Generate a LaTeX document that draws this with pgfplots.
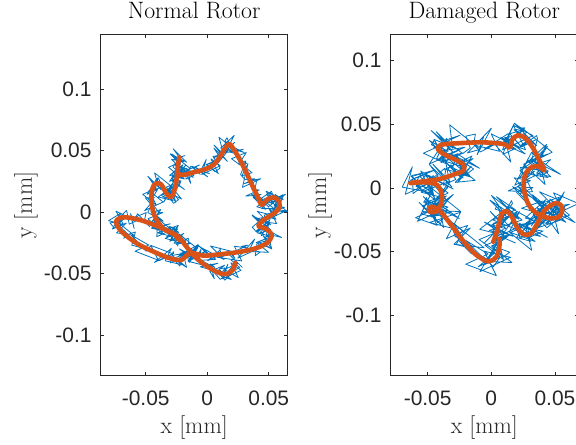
\documentclass[border=0pt]{standalone}
\usepackage{fontspec}
\usepackage{pgfplots}
\pgfplotsset{compat=1.18}
\newfontfamily\tickfamily{Liberation Sans}
\newcommand{\tickfont}{\tickfamily\fontsize{21}{24}\selectfont}
\newcommand{\labfont}{\fontsize{23.8}{28}\selectfont}
\definecolor{mblue}{rgb}{0,0.447,0.741}
\definecolor{morange}{rgb}{0.85,0.325,0.098}
\definecolor{axc}{rgb}{0.15,0.15,0.15}
\pgfplotsset{
  rotor/.style={
    scale only axis,
    width=187bp, height=341bp,
    scaled ticks=false,
    axis line style={draw=axc, line width=0.6bp},
    every tick/.style={draw=axc, line width=0.6bp},
    major tick length=3.3bp,
    tick align=inside,
    xtick={-0.05,0,0.05}, xticklabels={-0.05,0,0.05},
    ytick={-0.1,-0.05,0,0.05,0.1}, yticklabels={-0.1,-0.05,0,0.05,0.1},
    ticklabel style={font=\tickfont, text=axc},
    xticklabel style={anchor=base, inner sep=0pt, yshift=-30bp},
    yticklabel style={anchor=east, inner sep=0pt, xshift=-9bp},
    title style={font=\labfont, at={(axis description cs:0.5,1)}, anchor=base, yshift=10.7bp, inner sep=0pt},
    xlabel style={font=\labfont, text=axc, at={(axis description cs:0.5,0)}, anchor=base, yshift=-57.3bp, inner sep=0pt},
    xlabel={x [mm]}, ylabel={y [mm]},
  },
  blueline/.style={color=mblue, line width=0.8bp, no marks, line join=round},
  orangeline/.style={color=morange, line width=4.6bp, no marks, smooth, tension=0.55, line cap=round, line join=round},
}
\begin{document}
\begin{tikzpicture}
\begin{axis}[rotor,
  at={(100.7bp,69.3bp)}, anchor=south west,
  xmin=-0.0866, xmax=0.0654, ymin=-0.1331, ymax=0.1441,
  title={Normal Rotor},
  ylabel style={font=\labfont, text=axc, at={([xshift=-68.7bp]axis description cs:0,0.5)}, anchor=base, inner sep=0pt},
]
\addplot[blueline] coordinates {
(0.0286,-0.0452) (0.0176,-0.0342) (0.0249,-0.0418) (0.0139,-0.0468)
(0.0252,-0.0533) (0.0192,-0.0413) (0.0275,-0.0474) (0.0125,-0.0544)
(0.0168,-0.0424) (0.0118,-0.0524) (0.0195,-0.0549) (0.0095,-0.0469)
(0.0141,-0.0433) (0.0021,-0.0483) (0.0057,-0.0542) (0.0027,-0.0422)
(0.0062,-0.0451) (-0.0078,-0.0381) (-0.0036,-0.0431) (-0.0156,-0.0401)
(-0.0073,-0.0280) (-0.0143,-0.0410) (-0.0087,-0.0279) (-0.0167,-0.0359)
(-0.0080,-0.0298) (-0.0230,-0.0178) (-0.0198,-0.0255) (-0.0278,-0.0175)
(-0.0175,-0.0241) (-0.0285,-0.0131) (-0.0232,-0.0165) (-0.0342,-0.0215)
(-0.0249,-0.0238) (-0.0309,-0.0118) (-0.0260,-0.0131) (-0.0410,-0.0201)
(-0.0401,-0.0034) (-0.0451,-0.0134) (-0.0409,-0.0140) (-0.0509,-0.0060)
(-0.0496,-0.0005) (-0.0616,-0.0055) (-0.0594,-0.0134) (-0.0624,-0.0014)
(-0.0602,-0.0063) (-0.0742,0.0007) (-0.0682,-0.0101) (-0.0802,-0.0071)
(-0.0701,-0.0009) (-0.0771,-0.0139) (-0.0658,-0.0090) (-0.0738,-0.0170)
(-0.0595,-0.0190) (-0.0745,-0.0070) (-0.0624,-0.0228) (-0.0704,-0.0148)
(-0.0513,-0.0295) (-0.0623,-0.0185) (-0.0476,-0.0269) (-0.0586,-0.0319)
(-0.0398,-0.0392) (-0.0458,-0.0272) (-0.0280,-0.0340) (-0.0430,-0.0410)
(-0.0292,-0.0297) (-0.0342,-0.0397) (-0.0185,-0.0434) (-0.0285,-0.0354)
(-0.0158,-0.0330) (-0.0278,-0.0380) (-0.0168,-0.0450) (-0.0198,-0.0330)
(-0.0087,-0.0370) (-0.0227,-0.0300) (-0.0110,-0.0383) (-0.0230,-0.0353)
(-0.0073,-0.0266) (-0.0143,-0.0396) (-0.0012,-0.0316) (-0.0092,-0.0396)
(0.0069,-0.0385) (-0.0081,-0.0265) (0.0033,-0.0371) (-0.0047,-0.0291)
(0.0137,-0.0387) (0.0027,-0.0277) (0.0189,-0.0318) (0.0079,-0.0368)
(0.0280,-0.0398) (0.0220,-0.0278) (0.0398,-0.0305) (0.0248,-0.0375)
(0.0385,-0.0221) (0.0335,-0.0321) (0.0499,-0.0328) (0.0399,-0.0248)
(0.0533,-0.0195) (0.0413,-0.0245) (0.0524,-0.0301) (0.0494,-0.0181)
(0.0604,-0.0207) (0.0464,-0.0137) (0.0527,-0.0200) (0.0407,-0.0170)
(0.0510,-0.0063) (0.0440,-0.0193) (0.0503,-0.0094) (0.0423,-0.0174)
(0.0516,-0.0144) (0.0366,-0.0024) (0.0446,-0.0110) (0.0366,-0.0030)
(0.0516,-0.0105) (0.0406,0.0005) (0.0520,-0.0025) (0.0410,-0.0075)
(0.0564,-0.0094) (0.0504,0.0026) (0.0641,0.0009) (0.0491,-0.0061)
(0.0588,0.0102) (0.0538,0.0002) (0.0652,0.0003) (0.0552,0.0083)
(0.0636,0.0144) (0.0516,0.0094) (0.0582,0.0022) (0.0552,0.0142)
(0.0618,0.0099) (0.0478,0.0169) (0.0541,0.0069) (0.0421,0.0099)
(0.0523,0.0168) (0.0453,0.0038) (0.0523,0.0108) (0.0443,0.0028)
(0.0543,0.0027) (0.0393,0.0147) (0.0440,0.0064) (0.0360,0.0144)
(0.0476,0.0071) (0.0366,0.0181) (0.0423,0.0179) (0.0313,0.0129)
(0.0410,0.0136) (0.0350,0.0256) (0.0436,0.0270) (0.0286,0.0200)
(0.0331,0.0394) (0.0281,0.0294) (0.0364,0.0319) (0.0264,0.0399)
(0.0317,0.0483) (0.0197,0.0433) (0.0263,0.0384) (0.0233,0.0504)
(0.0298,0.0484) (0.0158,0.0554) (0.0229,0.0489) (0.0109,0.0519)
(0.0220,0.0623) (0.0150,0.0493) (0.0223,0.0566) (0.0143,0.0486)
(0.0245,0.0488) (0.0095,0.0608) (0.0135,0.0464) (0.0055,0.0544)
(0.0164,0.0410) (0.0054,0.0520) (0.0107,0.0436) (-0.0003,0.0386)
(0.0090,0.0312) (0.0030,0.0432) (0.0106,0.0375) (-0.0044,0.0305)
(-0.0008,0.0427) (-0.0058,0.0327) (0.0004,0.0285) (-0.0096,0.0365)
(-0.0063,0.0382) (-0.0183,0.0332) (-0.0134,0.0232) (-0.0164,0.0352)
(-0.0114,0.0281) (-0.0254,0.0351) (-0.0186,0.0268) (-0.0306,0.0298)
(-0.0197,0.0384) (-0.0267,0.0254) (-0.0177,0.0378) (-0.0257,0.0298)
(-0.0137,0.0352) (-0.0287,0.0472) (-0.0222,0.0393) (-0.0302,0.0473)
(-0.0167,0.0404) (-0.0277,0.0514) (-0.0205,0.0413) (-0.0315,0.0363)
(-0.0203,0.0271) (-0.0263,0.0391) (-0.0156,0.0318) (-0.0306,0.0248)
(-0.0238,0.0354) (-0.0288,0.0254) (-0.0185,0.0183) (-0.0285,0.0263)
(-0.0212,0.0252) (-0.0332,0.0202) (-0.0256,0.0079) (-0.0286,0.0199)
(-0.0209,0.0105) (-0.0349,0.0175) (-0.0277,0.0092) (-0.0397,0.0122)
(-0.0284,0.0208) (-0.0354,0.0078) (-0.0291,0.0213) (-0.0371,0.0133)
(-0.0278,0.0198) (-0.0428,0.0318) (-0.0396,0.0204) (-0.0476,0.0284)
(-0.0373,0.0180) (-0.0483,0.0290) (-0.0414,0.0193) (-0.0524,0.0143)
(-0.0414,0.0055) (-0.0474,0.0175) (-0.0359,0.0081) (-0.0509,0.0011)
(-0.0433,0.0096) (-0.0483,-0.0004) (-0.0357,-0.0075) (-0.0457,0.0005)
(-0.0361,-0.0005) (-0.0481,-0.0055) (-0.0361,-0.0183) (-0.0391,-0.0063)
(-0.0271,-0.0161) (-0.0411,-0.0091) (-0.0283,-0.0200) (-0.0403,-0.0170)
(-0.0235,-0.0109) (-0.0305,-0.0239) (-0.0191,-0.0174) (-0.0271,-0.0254)
(-0.0127,-0.0258)
};
\addplot[blueline] coordinates {
(0.0191,-0.0387) (0.0264,-0.0453) (0.0199,-0.0483) (0.0242,-0.0423)
(0.0237,-0.0408) (0.0140,-0.0514) (0.0225,-0.0474) (0.0143,-0.0554)
(0.0108,-0.0514) (0.0145,-0.0454) (0.0095,-0.0464) (0.0146,-0.0518)
(0.0106,-0.0548) (0.0012,-0.0442) (0.0087,-0.0417) (-0.0058,-0.0446)
(0.0017,-0.0466) (-0.0121,-0.0356) (-0.0056,-0.0421) (-0.0133,-0.0300)
(-0.0148,-0.0325) (-0.0102,-0.0324) (-0.0167,-0.0354) (-0.0150,-0.0228)
(-0.0155,-0.0213) (-0.0253,-0.0265) (-0.0168,-0.0225) (-0.0250,-0.0251)
(-0.0285,-0.0211) (-0.0242,-0.0140) (-0.0292,-0.0150) (-0.0234,-0.0193)
(-0.0274,-0.0223) (-0.0375,-0.0121) (-0.0300,-0.0096) (-0.0451,-0.0129)
(-0.0376,-0.0149) (-0.0534,-0.0055) (-0.0469,-0.0120) (-0.0566,-0.0015)
(-0.0581,-0.0040) (-0.0569,-0.0069) (-0.0634,-0.0099) (-0.0652,-0.0003)
(-0.0657,0.0012) (-0.0757,-0.0091) (-0.0672,-0.0051) (-0.0756,-0.0129)
(-0.0791,-0.0089) (-0.0698,-0.0075) (-0.0748,-0.0085) (-0.0640,-0.0185)
(-0.0680,-0.0215) (-0.0659,-0.0188) (-0.0584,-0.0163) (-0.0613,-0.0270)
(-0.0538,-0.0290) (-0.0561,-0.0254) (-0.0496,-0.0319) (-0.0458,-0.0272)
(-0.0473,-0.0297) (-0.0325,-0.0365) (-0.0390,-0.0395) (-0.0272,-0.0337)
(-0.0277,-0.0322) (-0.0300,-0.0414) (-0.0215,-0.0374) (-0.0223,-0.0440)
(-0.0258,-0.0400) (-0.0168,-0.0325) (-0.0218,-0.0335) (-0.0112,-0.0375)
(-0.0152,-0.0405) (-0.0165,-0.0323) (-0.0090,-0.0298) (-0.0153,-0.0351)
(-0.0078,-0.0371) (-0.0127,-0.0311) (-0.0062,-0.0376) (-0.0051,-0.0305)
(-0.0066,-0.0330) (0.0068,-0.0366) (0.0003,-0.0396) (0.0107,-0.0307)
(0.0102,-0.0292) (0.0114,-0.0368) (0.0199,-0.0328) (0.0225,-0.0378)
(0.0190,-0.0338) (0.0328,-0.0270) (0.0278,-0.0280) (0.0430,-0.0326)
(0.0390,-0.0356) (0.0404,-0.0258) (0.0479,-0.0233) (0.0443,-0.0270)
(0.0518,-0.0290) (0.0449,-0.0186) (0.0514,-0.0251) (0.0504,-0.0137)
(0.0489,-0.0162) (0.0542,-0.0175) (0.0477,-0.0205) (0.0500,-0.0093)
(0.0495,-0.0078) (0.0398,-0.0154) (0.0483,-0.0114) (0.0401,-0.0164)
(0.0366,-0.0124) (0.0456,-0.0045) (0.0406,-0.0055) (0.0511,-0.0090)
(0.0471,-0.0120) (0.0465,-0.0025) (0.0540,0.0000) (0.0484,-0.0039)
(0.0559,-0.0059) (0.0496,0.0034) (0.0561,-0.0031) (0.0558,0.0072)
(0.0543,0.0047) (0.0627,0.0038) (0.0562,0.0008) (0.0616,0.0124)
(0.0611,0.0139) (0.0517,0.0072) (0.0602,0.0112) (0.0523,0.0069)
(0.0488,0.0109) (0.0531,0.0154) (0.0481,0.0144) (0.0538,0.0073)
(0.0498,0.0043) (0.0438,0.0098) (0.0513,0.0123) (0.0403,0.0042)
(0.0478,0.0022) (0.0375,0.0119) (0.0440,0.0054) (0.0396,0.0161)
(0.0381,0.0136) (0.0438,0.0144) (0.0373,0.0114) (0.0400,0.0246)
(0.0395,0.0261) (0.0301,0.0230) (0.0386,0.0270) (0.0306,0.0264)
(0.0271,0.0304) (0.0314,0.0414) (0.0264,0.0404) (0.0322,0.0398)
(0.0282,0.0368) (0.0218,0.0484) (0.0293,0.0509) (0.0178,0.0489)
(0.0253,0.0469) (0.0144,0.0564) (0.0209,0.0499) (0.0160,0.0603)
(0.0145,0.0578) (0.0208,0.0521) (0.0143,0.0491) (0.0175,0.0558)
(0.0170,0.0573) (0.0080,0.0454) (0.0165,0.0494) (0.0089,0.0400)
(0.0054,0.0440) (0.0097,0.0461) (0.0047,0.0451) (0.0105,0.0357)
(0.0065,0.0327) (-0.0009,0.0385) (0.0066,0.0410) (-0.0058,0.0332)
(0.0017,0.0312) (-0.0121,0.0370) (-0.0056,0.0305) (-0.0133,0.0372)
(-0.0148,0.0347) (-0.0109,0.0297) (-0.0174,0.0267) (-0.0164,0.0341)
(-0.0169,0.0356) (-0.0261,0.0278) (-0.0176,0.0318) (-0.0252,0.0264)
(-0.0287,0.0304) (-0.0217,0.0393) (-0.0267,0.0383) (-0.0182,0.0357)
(-0.0222,0.0327) (-0.0257,0.0433) (-0.0182,0.0458) (-0.0267,0.0429)
(-0.0192,0.0409) (-0.0290,0.0428) (-0.0225,0.0363) (-0.0263,0.0391)
(-0.0278,0.0366) (-0.0201,0.0293) (-0.0266,0.0263) (-0.0218,0.0314)
(-0.0223,0.0329) (-0.0300,0.0203) (-0.0215,0.0243) (-0.0277,0.0142)
(-0.0312,0.0182) (-0.0256,0.0204) (-0.0306,0.0194) (-0.0234,0.0100)
(-0.0274,0.0070) (-0.0332,0.0152) (-0.0257,0.0177) (-0.0364,0.0123)
(-0.0289,0.0103) (-0.0406,0.0218) (-0.0341,0.0153) (-0.0398,0.0278)
(-0.0413,0.0253) (-0.0361,0.0209) (-0.0426,0.0179) (-0.0403,0.0260)
(-0.0408,0.0275) (-0.0489,0.0143) (-0.0404,0.0183) (-0.0469,0.0075)
(-0.0504,0.0115) (-0.0429,0.0116) (-0.0479,0.0106) (-0.0388,-0.0009)
(-0.0428,-0.0039) (-0.0452,-0.0005) (-0.0377,0.0020) (-0.0451,-0.0080)
(-0.0376,-0.0100) (-0.0436,-0.0068) (-0.0371,-0.0133) (-0.0371,-0.0091)
(-0.0386,-0.0116) (-0.0268,-0.0175) (-0.0333,-0.0205) (-0.0245,-0.0139)
(-0.0250,-0.0124) (-0.0296,-0.0234) (-0.0211,-0.0194) (-0.0242,-0.0278)
};
\addplot[orangeline] coordinates {
(0.0226,-0.0412) (0.0212,-0.0463) (0.0158,-0.0504) (0.0091,-0.0493)
(-0.0018,-0.0431) (-0.0113,-0.0350) (-0.0180,-0.0268) (-0.0235,-0.0201)
(-0.0289,-0.0168) (-0.0411,-0.0114) (-0.0546,-0.0065) (-0.0682,-0.0043)
(-0.0741,-0.0079) (-0.0695,-0.0160) (-0.0573,-0.0255) (-0.0438,-0.0322)
(-0.0302,-0.0377) (-0.0208,-0.0390) (-0.0167,-0.0350) (-0.0113,-0.0336)
(-0.0031,-0.0355) (0.0077,-0.0347) (0.0240,-0.0328) (0.0375,-0.0301)
(0.0483,-0.0255) (0.0524,-0.0187) (0.0470,-0.0133) (0.0416,-0.0114)
(0.0456,-0.0065) (0.0524,-0.0024) (0.0578,0.0022) (0.0586,0.0084)
(0.0538,0.0119) (0.0483,0.0098) (0.0443,0.0057) (0.0416,0.0111)
(0.0370,0.0206) (0.0321,0.0314) (0.0267,0.0423) (0.0218,0.0504)
(0.0180,0.0553) (0.0145,0.0518) (0.0104,0.0450) (0.0050,0.0382)
(-0.0018,0.0347) (-0.0113,0.0322) (-0.0194,0.0301) (-0.0237,0.0314)
(-0.0237,0.0382) (-0.0227,0.0444) (-0.0243,0.0341) (-0.0248,0.0274)
(-0.0262,0.0192) (-0.0289,0.0125) (-0.0324,0.0138) (-0.0378,0.0228)
(-0.0433,0.0220) (-0.0454,0.0125) (-0.0443,0.0016) (-0.0411,-0.0065)
(-0.0351,-0.0141) (-0.0275,-0.0179) (-0.0227,-0.0228)
};
\end{axis}

\begin{axis}[rotor,
  at={(390.7bp,69.3bp)}, anchor=south west,
  width=187.3bp,
  xmin=-0.0790, xmax=0.0681, ymin=-0.1473, ymax=0.1203,
  title={Damaged Rotor},
  ylabel style={font=\labfont, text=axc, at={([xshift=-64.7bp]axis description cs:0,0.5)}, anchor=base, inner sep=0pt},
]
\addplot[blueline] coordinates {
(0.0096,-0.0325) (-0.0096,-0.0405) (0.0061,-0.0512) (0.0013,-0.0320)
(0.0170,-0.0379) (-0.0054,-0.0267) (0.0101,-0.0372) (-0.0091,-0.0324)
(0.0127,-0.0156) (0.0015,-0.0364) (0.0169,-0.0188) (0.0041,-0.0316)
(0.0242,-0.0251) (0.0002,-0.0059) (0.0118,-0.0224) (-0.0010,-0.0096)
(0.0217,-0.0245) (0.0041,-0.0069) (0.0189,-0.0171) (0.0013,-0.0251)
(0.0224,-0.0336) (0.0128,-0.0144) (0.0327,-0.0253) (0.0087,-0.0365)
(0.0221,-0.0185) (0.0141,-0.0345) (0.0344,-0.0420) (0.0184,-0.0292)
(0.0338,-0.0270) (0.0146,-0.0350) (0.0318,-0.0489) (0.0270,-0.0297)
(0.0441,-0.0387) (0.0217,-0.0275) (0.0386,-0.0380) (0.0194,-0.0332)
(0.0427,-0.0164) (0.0315,-0.0372) (0.0479,-0.0189) (0.0351,-0.0317)
(0.0562,-0.0245) (0.0322,-0.0053) (0.0446,-0.0202) (0.0318,-0.0074)
(0.0554,-0.0206) (0.0378,-0.0030) (0.0538,-0.0098) (0.0362,-0.0178)
(0.0585,-0.0230) (0.0489,-0.0038) (0.0684,-0.0122) (0.0444,-0.0234)
(0.0574,-0.0030) (0.0494,-0.0190) (0.0658,-0.0271) (0.0498,-0.0143)
(0.0614,-0.0128) (0.0422,-0.0208) (0.0528,-0.0359) (0.0480,-0.0167)
(0.0586,-0.0269) (0.0362,-0.0157) (0.0459,-0.0284) (0.0267,-0.0236)
(0.0427,-0.0091) (0.0315,-0.0299) (0.0426,-0.0122) (0.0298,-0.0250)
(0.0457,-0.0185) (0.0217,0.0007) (0.0295,-0.0117) (0.0167,0.0011)
(0.0356,-0.0096) (0.0180,0.0080) (0.0308,0.0057) (0.0132,-0.0023)
(0.0324,-0.0030) (0.0228,0.0162) (0.0424,0.0134) (0.0184,0.0022)
(0.0316,0.0281) (0.0236,0.0121) (0.0445,0.0082) (0.0285,0.0210)
(0.0446,0.0267) (0.0254,0.0187) (0.0423,0.0027) (0.0375,0.0219)
(0.0544,0.0107) (0.0320,0.0219) (0.0442,0.0121) (0.0250,0.0169)
(0.0435,0.0343) (0.0323,0.0135) (0.0441,0.0328) (0.0313,0.0200)
(0.0478,0.0281) (0.0238,0.0473) (0.0305,0.0331) (0.0177,0.0459)
(0.0356,0.0333) (0.0180,0.0509) (0.0281,0.0437) (0.0105,0.0357)
(0.0269,0.0301) (0.0173,0.0493) (0.0328,0.0411) (0.0088,0.0299)
(0.0179,0.0504) (0.0099,0.0344) (0.0267,0.0267) (0.0107,0.0395)
(0.0227,0.0414) (0.0035,0.0334) (0.0153,0.0204) (0.0105,0.0396)
(0.0223,0.0313) (-0.0001,0.0425) (0.0064,0.0288) (-0.0128,0.0336)
(0.0001,0.0470) (-0.0111,0.0262) (-0.0059,0.0403) (-0.0187,0.0275)
(-0.0087,0.0304) (-0.0327,0.0496) (-0.0304,0.0314) (-0.0432,0.0442)
(-0.0296,0.0275) (-0.0472,0.0451) (-0.0357,0.0353) (-0.0533,0.0273)
(-0.0354,0.0190) (-0.0450,0.0382) (-0.0248,0.0299) (-0.0488,0.0187)
(-0.0350,0.0391) (-0.0430,0.0231) (-0.0215,0.0164) (-0.0375,0.0292)
(-0.0207,0.0320) (-0.0399,0.0240) (-0.0222,0.0078) (-0.0270,0.0270)
(-0.0093,0.0155) (-0.0317,0.0267) (-0.0171,0.0099) (-0.0363,0.0147)
(-0.0152,0.0251) (-0.0264,0.0043) (-0.0156,0.0172) (-0.0284,0.0044)
(-0.0127,0.0060) (-0.0367,0.0252) (-0.0330,0.0058) (-0.0458,0.0186)
(-0.0309,0.0007) (-0.0485,0.0183) (-0.0416,0.0094) (-0.0592,0.0014)
(-0.0459,-0.0059) (-0.0555,0.0133) (-0.0436,0.0062) (-0.0676,-0.0050)
(-0.0620,0.0167) (-0.0700,0.0007) (-0.0468,-0.0038) (-0.0628,0.0090)
(-0.0443,0.0141) (-0.0635,0.0061) (-0.0443,-0.0093) (-0.0491,0.0099)
(-0.0298,-0.0008) (-0.0522,0.0104) (-0.0359,-0.0081) (-0.0551,-0.0033)
(-0.0323,0.0054) (-0.0435,-0.0154) (-0.0298,-0.0050) (-0.0426,-0.0178)
(-0.0240,-0.0185) (-0.0480,0.0007) (-0.0406,-0.0195) (-0.0534,-0.0067)
(-0.0348,-0.0253) (-0.0524,-0.0077) (-0.0419,-0.0153) (-0.0595,-0.0233)
(-0.0425,-0.0293) (-0.0521,-0.0101) (-0.0340,-0.0150) (-0.0580,-0.0262)
(-0.0463,-0.0022) (-0.0543,-0.0182) (-0.0343,-0.0234) (-0.0503,-0.0106)
(-0.0351,-0.0062) (-0.0543,-0.0142) (-0.0373,-0.0311) (-0.0421,-0.0119)
(-0.0251,-0.0240) (-0.0475,-0.0128) (-0.0294,-0.0319) (-0.0486,-0.0271)
(-0.0241,-0.0190) (-0.0353,-0.0398) (-0.0165,-0.0314) (-0.0293,-0.0442)
(-0.0056,-0.0469) (-0.0296,-0.0277) (-0.0153,-0.0504) (-0.0281,-0.0376)
(-0.0025,-0.0587) (-0.0201,-0.0411) (-0.0025,-0.0518) (-0.0201,-0.0598)
(0.0040,-0.0688) (-0.0056,-0.0496) (0.0151,-0.0544) (-0.0089,-0.0656)
(0.0053,-0.0416) (-0.0027,-0.0576) (0.0162,-0.0585) (0.0002,-0.0457)
(0.0143,-0.0370) (-0.0049,-0.0450) (0.0095,-0.0561) (0.0047,-0.0369)
(0.0191,-0.0432)
};
\addplot[blueline] coordinates {
(-0.0059,-0.0436) (0.0059,-0.0316) (-0.0016,-0.0332) (0.0124,-0.0385)
(0.0064,-0.0429) (0.0015,-0.0278) (0.0128,-0.0240) (0.0003,-0.0290)
(0.0115,-0.0320) (-0.0009,-0.0184) (0.0088,-0.0281) (0.0052,-0.0128)
(0.0030,-0.0165) (0.0170,-0.0214) (0.0072,-0.0260) (0.0166,-0.0121)
(0.0159,-0.0099) (0.0073,-0.0248) (0.0201,-0.0188) (0.0138,-0.0299)
(0.0085,-0.0239) (0.0213,-0.0201) (0.0138,-0.0217) (0.0287,-0.0351)
(0.0227,-0.0395) (0.0194,-0.0310) (0.0307,-0.0272) (0.0198,-0.0388)
(0.0310,-0.0418) (0.0204,-0.0309) (0.0301,-0.0406) (0.0283,-0.0280)
(0.0261,-0.0317) (0.0406,-0.0338) (0.0308,-0.0384) (0.0408,-0.0216)
(0.0401,-0.0194) (0.0315,-0.0282) (0.0443,-0.0222) (0.0380,-0.0272)
(0.0327,-0.0212) (0.0460,-0.0102) (0.0385,-0.0118) (0.0540,-0.0180)
(0.0480,-0.0224) (0.0452,-0.0100) (0.0565,-0.0062) (0.0461,-0.0140)
(0.0573,-0.0170) (0.0458,-0.0086) (0.0555,-0.0183) (0.0528,-0.0083)
(0.0506,-0.0120) (0.0614,-0.0213) (0.0516,-0.0259) (0.0579,-0.0164)
(0.0572,-0.0142) (0.0428,-0.0276) (0.0556,-0.0216) (0.0436,-0.0312)
(0.0383,-0.0252) (0.0441,-0.0152) (0.0366,-0.0168) (0.0445,-0.0241)
(0.0385,-0.0285) (0.0292,-0.0140) (0.0405,-0.0102) (0.0237,-0.0159)
(0.0349,-0.0189) (0.0197,-0.0033) (0.0294,-0.0130) (0.0230,0.0043)
(0.0208,0.0006) (0.0328,0.0003) (0.0230,-0.0043) (0.0305,0.0142)
(0.0298,0.0164) (0.0212,0.0073) (0.0340,0.0133) (0.0278,0.0078)
(0.0225,0.0138) (0.0363,0.0230) (0.0288,0.0214) (0.0448,0.0133)
(0.0388,0.0089) (0.0353,0.0185) (0.0466,0.0223) (0.0356,0.0117)
(0.0468,0.0087) (0.0312,0.0237) (0.0409,0.0140) (0.0341,0.0306)
(0.0319,0.0269) (0.0413,0.0258) (0.0315,0.0212) (0.0363,0.0389)
(0.0356,0.0411) (0.0221,0.0318) (0.0349,0.0378) (0.0238,0.0322)
(0.0185,0.0382) (0.0263,0.0473) (0.0188,0.0457) (0.0287,0.0375)
(0.0227,0.0331) (0.0146,0.0425) (0.0259,0.0463) (0.0103,0.0354)
(0.0215,0.0324) (0.0073,0.0399) (0.0170,0.0302) (0.0117,0.0393)
(0.0095,0.0356) (0.0189,0.0310) (0.0091,0.0264) (0.0140,0.0405)
(0.0133,0.0427) (-0.0052,0.0307) (0.0076,0.0367) (-0.0085,0.0283)
(-0.0138,0.0343) (-0.0125,0.0423) (-0.0200,0.0407) (-0.0165,0.0314)
(-0.0225,0.0270) (-0.0358,0.0376) (-0.0245,0.0414) (-0.0452,0.0317)
(-0.0340,0.0287) (-0.0487,0.0373) (-0.0390,0.0276) (-0.0448,0.0377)
(-0.0470,0.0340) (-0.0324,0.0261) (-0.0422,0.0215) (-0.0321,0.0323)
(-0.0328,0.0345) (-0.0395,0.0199) (-0.0267,0.0259) (-0.0309,0.0149)
(-0.0362,0.0209) (-0.0224,0.0274) (-0.0299,0.0258) (-0.0139,0.0149)
(-0.0199,0.0105) (-0.0257,0.0193) (-0.0144,0.0231) (-0.0276,0.0117)
(-0.0164,0.0087) (-0.0334,0.0176) (-0.0237,0.0079) (-0.0317,0.0183)
(-0.0339,0.0146) (-0.0278,0.0068) (-0.0376,0.0022) (-0.0360,0.0131)
(-0.0367,0.0153) (-0.0532,0.0017) (-0.0404,0.0077) (-0.0545,-0.0022)
(-0.0598,0.0038) (-0.0550,0.0114) (-0.0625,0.0098) (-0.0554,0.0001)
(-0.0614,-0.0043) (-0.0618,0.0072) (-0.0505,0.0110) (-0.0583,0.0023)
(-0.0471,-0.0007) (-0.0557,0.0087) (-0.0460,-0.0010) (-0.0456,0.0099)
(-0.0478,0.0062) (-0.0339,-0.0039) (-0.0437,-0.0085) (-0.0342,0.0002)
(-0.0349,0.0024) (-0.0462,-0.0143) (-0.0334,-0.0083) (-0.0422,-0.0212)
(-0.0475,-0.0152) (-0.0392,-0.0095) (-0.0467,-0.0111) (-0.0362,-0.0227)
(-0.0422,-0.0271) (-0.0505,-0.0155) (-0.0392,-0.0117) (-0.0549,-0.0203)
(-0.0437,-0.0233) (-0.0566,-0.0114) (-0.0469,-0.0211) (-0.0509,-0.0075)
(-0.0531,-0.0112) (-0.0387,-0.0176) (-0.0485,-0.0222) (-0.0386,-0.0098)
(-0.0393,-0.0076) (-0.0473,-0.0228) (-0.0345,-0.0168) (-0.0401,-0.0283)
(-0.0454,-0.0223) (-0.0312,-0.0187) (-0.0387,-0.0203) (-0.0223,-0.0340)
(-0.0283,-0.0384) (-0.0299,-0.0332) (-0.0186,-0.0294) (-0.0276,-0.0443)
(-0.0164,-0.0473) (-0.0251,-0.0420) (-0.0154,-0.0517) (-0.0151,-0.0448)
(-0.0173,-0.0485) (-0.0005,-0.0572) (-0.0103,-0.0618) (0.0021,-0.0516)
(0.0014,-0.0494) (-0.0061,-0.0605) (0.0067,-0.0545) (0.0015,-0.0619)
(-0.0038,-0.0559) (0.0080,-0.0437) (0.0005,-0.0453) (0.0145,-0.0504)
(0.0085,-0.0548) (0.0025,-0.0403) (0.0138,-0.0365) (0.0003,-0.0422)
};
\addplot[orangeline] coordinates {
(0.0016,-0.0421) (0.0042,-0.0347) (0.0063,-0.0268) (0.0082,-0.0203)
(0.0121,-0.0181) (0.0160,-0.0224) (0.0205,-0.0313) (0.0258,-0.0366)
(0.0313,-0.0355) (0.0363,-0.0276) (0.0402,-0.0197) (0.0458,-0.0142)
(0.0521,-0.0118) (0.0558,-0.0158) (0.0534,-0.0224) (0.0458,-0.0237)
(0.0363,-0.0203) (0.0297,-0.0137) (0.0260,-0.0032) (0.0260,0.0082)
(0.0300,0.0153) (0.0366,0.0171) (0.0416,0.0139) (0.0371,0.0231)
(0.0318,0.0329) (0.0260,0.0397) (0.0205,0.0413) (0.0163,0.0376)
(0.0147,0.0318) (0.0095,0.0345) (-0.0063,0.0358) (-0.0247,0.0352)
(-0.0392,0.0339) (-0.0418,0.0302) (-0.0366,0.0263) (-0.0287,0.0224)
(-0.0221,0.0187) (-0.0216,0.0139) (-0.0287,0.0108) (-0.0405,0.0071)
(-0.0523,0.0053) (-0.0636,0.0039) (-0.0523,0.0045) (-0.0426,0.0024)
(-0.0387,-0.0058) (-0.0400,-0.0137) (-0.0444,-0.0189) (-0.0489,-0.0181)
(-0.0479,-0.0150) (-0.0431,-0.0158) (-0.0379,-0.0208) (-0.0305,-0.0302)
(-0.0216,-0.0421) (-0.0121,-0.0523) (-0.0024,-0.0576) (0.0037,-0.0544)
(0.0063,-0.0466) (0.0063,-0.0400)
};
\end{axis}
\pgfresetboundingbox
\path[use as bounding box] (0,0) rectangle (576bp,445bp);
\end{tikzpicture}
\end{document}
